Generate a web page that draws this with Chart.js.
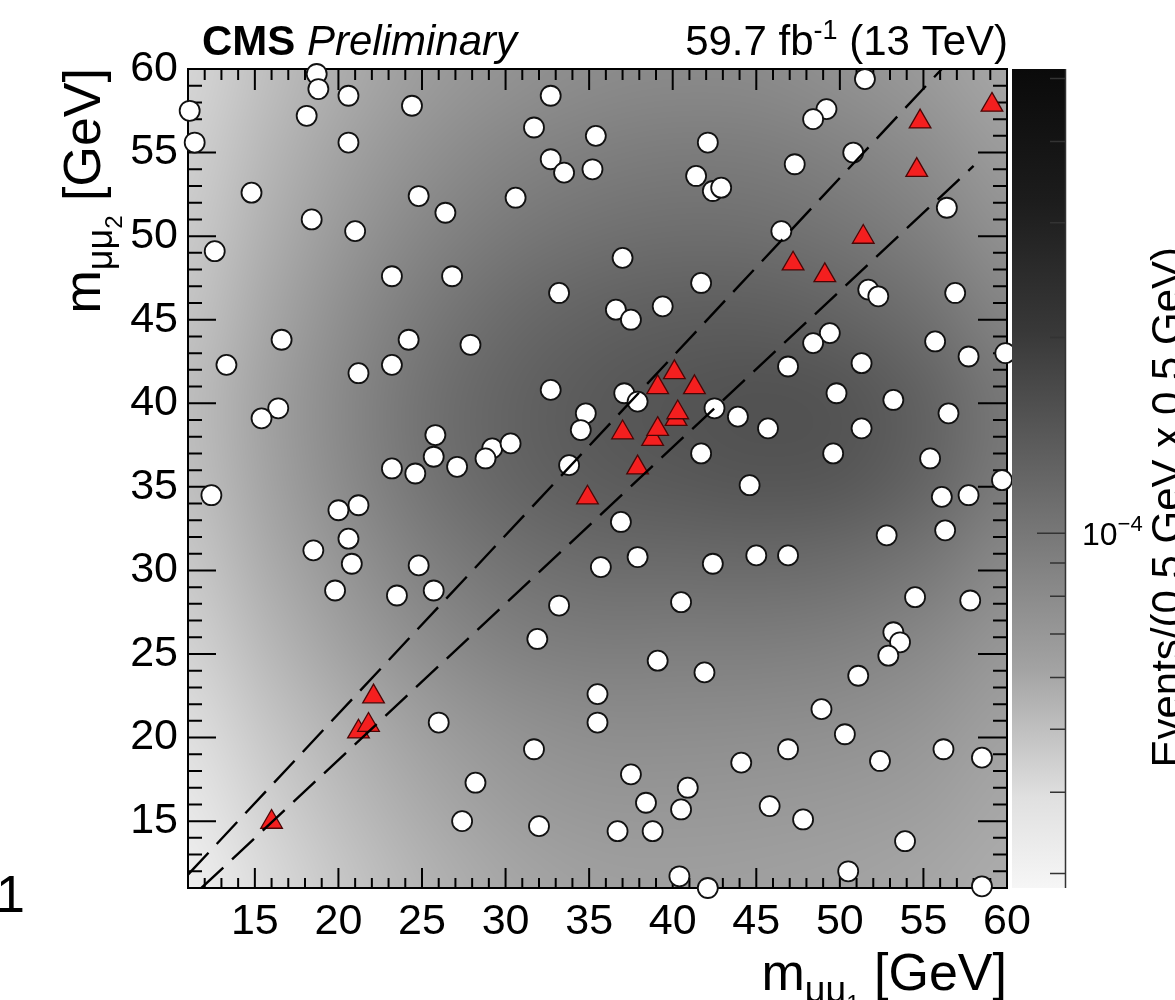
<!DOCTYPE html>
<html>
<head>
<meta charset="utf-8">
<title>m_mumu1 vs m_mumu2</title>
<script src="https://cdn.jsdelivr.net/npm/chart.js@4.4.1/dist/chart.umd.min.js"></script>
<style>
  html, body { margin: 0; padding: 0; background: #fff; }
  #wrap { width: 1175px; height: 1000px; }
</style>
</head>
<body>
<div id="wrap"><canvas id="plot" width="1175" height="1000"></canvas></div>
<script>
// --- data: dimuon pair masses in GeV ---

// events outside the diagonal signal corridor
const offDiagM1 = [
  11.1, 11.4, 18.7, 18.8, 18.1, 20.6, 20.6, 24.4, 14.8, 18.4, 21.0, 12.6, 24.8, 26.4,
  23.2, 26.8, 32.7, 31.7, 35.4, 32.7, 33.5, 35.2, 30.6, 33.2, 16.6, 24.2, 27.9,
  51.5, 49.2, 48.4, 42.1, 41.4, 42.4, 42.9, 47.3, 50.8, 56.4, 46.5, 37.0, 41.7,
  36.6, 37.5, 39.4, 51.7, 52.3, 56.9, 49.4, 48.4, 55.7,
  13.3, 21.2, 23.2, 32.7, 34.8, 34.5, 33.8, 16.4, 15.4, 25.8, 25.7, 23.2, 24.6,
  27.1, 29.2, 30.3, 28.8, 12.4, 20.0, 21.2, 20.6, 18.5, 20.8, 24.8, 19.8, 23.5,
  25.7, 33.2, 35.7,
  37.1, 37.9, 42.5, 43.9, 45.7, 46.9, 51.3, 49.8, 53.2, 56.5, 57.7, 59.9, 51.3,
  49.6, 55.4, 59.7, 41.7, 44.6, 56.1, 57.7, 36.9, 52.8, 56.3, 37.9, 42.4, 45.0,
  46.9, 40.5, 54.5, 57.8,
  31.9, 35.5, 35.5, 26.0, 31.7, 28.2, 27.4, 32.0,
  53.2, 53.6, 52.9, 51.1, 39.1, 41.9, 48.9, 50.3, 52.4, 56.2, 58.5, 44.1, 46.9,
  37.5, 40.9, 38.4, 40.5, 36.7, 38.8, 45.8, 47.8, 53.9, 40.4, 42.1, 50.5, 58.5
];
const offDiagM2 = [
  57.5, 55.6, 59.7, 58.8, 57.2, 58.4, 55.6, 57.8, 52.6, 51.0, 50.3, 49.1, 52.4, 51.4,
  47.6, 47.6, 58.4, 56.5, 56.0, 54.6, 53.8, 54.0, 52.3, 46.6, 43.8, 43.8, 43.5,
  59.4, 57.6, 57.0, 55.6, 53.6, 52.7, 52.9, 54.3, 55.0, 51.7, 50.3, 48.7, 47.2,
  45.6, 45.0, 45.8, 46.8, 46.4, 46.6, 44.2, 43.6, 43.7,
  42.3, 41.8, 42.3, 40.8, 39.4, 38.4, 36.3, 39.7, 39.1, 38.1, 36.8, 36.1, 35.8,
  36.2, 37.3, 37.6, 36.7, 34.5, 33.6, 33.9, 31.9, 31.2, 30.4, 30.3, 28.8, 28.5,
  28.8, 27.9, 30.2,
  40.6, 40.1, 39.7, 39.2, 38.5, 42.2, 42.4, 40.6, 40.2, 39.4, 42.8, 43.0, 38.5,
  37.0, 36.7, 35.4, 37.0, 35.1, 34.4, 34.5, 32.9, 32.1, 32.4, 30.8, 30.4, 30.9,
  30.9, 28.1, 28.4, 28.2,
  25.9, 22.6, 20.9, 20.9, 19.3, 17.3, 15.0, 14.7,
  26.3, 25.7, 24.9, 23.7, 24.6, 23.9, 21.7, 20.2, 18.6, 19.3, 18.8, 18.5, 19.3,
  17.8, 17.0, 16.1, 15.7, 14.4, 14.4, 15.9, 15.1, 13.8, 11.7, 11.0, 12.0, 11.1
];

// events inside the corridor
const diagM1 = [16.0, 21.2, 21.8, 22.1, 34.9, 37.0, 37.9, 38.8, 39.1, 40.2, 40.3, 39.1, 40.1, 41.3,
  47.2, 49.1, 51.4, 54.6, 54.8, 59.1];
const diagM2 = [14.95, 20.35, 20.75, 22.45, 34.35, 38.25, 36.15, 37.85, 38.45, 39.05, 39.45, 40.95, 41.85, 40.95,
  48.35, 47.65, 49.95, 53.95, 56.85, 57.85];

// corridor boundaries
const upperEdgeM1 = [11.0, 56.1];
const upperEdgeM2 = [11.8, 60.0];
const lowerEdgeM1 = [11.8, 58.0];
const lowerEdgeM2 = [11.0, 54.2];

const massRange = [11, 60];
const massTicks = [15, 20, 25, 30, 35, 40, 45, 50, 55, 60];

// expected background density, Events/(0.5 GeV x 0.5 GeV)
const densityRange = [2.85e-5, 5.17e-4];
const densityMajorTicks = [1e-4];
const densityMinorTicks = [3e-5, 4e-5, 5e-5, 6e-5, 7e-5, 8e-5, 9e-5, 2e-4, 3e-4, 4e-4, 5e-4];

// background template shade on an 11 x 11 node grid spanning massRange,
// rows from m2 = 60 down to m2 = 11, columns m1 = 11 .. 60
const bgShade = [
  [214, 190, 170, 155, 146, 140, 138, 139, 145, 154, 166],
  [208, 182, 160, 144, 133, 127, 124, 125, 131, 141, 156],
  [202, 174, 150, 132, 120, 113, 110, 111, 117, 128, 145],
  [196, 166, 140, 120, 106,  98,  94,  94, 100, 112, 132],
  [190, 160, 134, 112,  98,  89,  84,  81,  84,  98, 120],
  [192, 162, 136, 114, 100,  92,  88,  85,  87, 100, 122],
  [200, 170, 146, 126, 113, 107, 106, 105, 108, 118, 136],
  [210, 182, 158, 140, 128, 124, 125, 125, 128, 136, 150],
  [222, 196, 174, 156, 145, 140, 140, 141, 143, 149, 160],
  [232, 208, 186, 168, 156, 151, 151, 152, 154, 158, 167],
  [240, 218, 196, 178, 166, 160, 159, 160, 162, 166, 172]
];

// --- helpers ---
const FONT = '"Liberation Sans", Arial, Helvetica, sans-serif';
const pts = (xs, ys) => xs.map((x, i) => ({ x: x, y: ys[i] }));

// draws a run of [text, font, dy] pieces on one baseline
function drawRich(ctx, parts, x, y, align) {
  let total = 0;
  parts.forEach(p => { ctx.font = p[1]; total += ctx.measureText(p[0]).width; });
  let cx = align === 'right' ? x - total : x;
  ctx.textAlign = 'left';
  ctx.textBaseline = 'alphabetic';
  parts.forEach(p => {
    ctx.font = p[1];
    ctx.fillText(p[0], cx, y + p[2]);
    cx += ctx.measureText(p[0]).width;
  });
}

// background template + frame with inward ticks
const framePlugin = {
  id: 'frame',
  beforeDatasetsDraw(chart) {
    const { ctx, chartArea: a, scales } = chart;
    const x = scales.x, y = scales.y;

    // template, upsampled with smoothing
    const n = bgShade[0].length, m = bgShade.length;
    const off = document.createElement('canvas');
    off.width = n; off.height = m;
    const octx = off.getContext('2d');
    const img = octx.createImageData(n, m);
    for (let j = 0; j < m; j++) {
      for (let i = 0; i < n; i++) {
        const k = (j * n + i) * 4, g = bgShade[j][i];
        img.data[k] = g; img.data[k + 1] = g; img.data[k + 2] = g; img.data[k + 3] = 255;
      }
    }
    octx.putImageData(img, 0, 0);
    const x0 = x.getPixelForValue(massRange[0]), x1 = x.getPixelForValue(massRange[1]);
    const y0 = y.getPixelForValue(massRange[1]), y1 = y.getPixelForValue(massRange[0]);
    ctx.save();
    ctx.imageSmoothingEnabled = true;
    ctx.imageSmoothingQuality = 'high';
    ctx.drawImage(off, 0.5, 0.5, n - 1, m - 1, x0, y0, x1 - x0, y1 - y0);
    ctx.restore();

    // frame and ticks
    ctx.save();
    ctx.strokeStyle = '#000';
    ctx.lineWidth = 2;
    ctx.beginPath();
    for (let v = Math.ceil(massRange[0]); v <= massRange[1]; v++) {
      const major = v % 5 === 0;
      const px = x.getPixelForValue(v);
      const py = y.getPixelForValue(v);
      ctx.moveTo(px, a.bottom); ctx.lineTo(px, a.bottom - (major ? 20 : 10));
      ctx.moveTo(px, a.top); ctx.lineTo(px, a.top + (major ? 21 : 11));
      ctx.moveTo(a.left, py); ctx.lineTo(a.left + (major ? 28 : 14), py);
      ctx.moveTo(a.right, py); ctx.lineTo(a.right - (major ? 29 : 14), py);
    }
    ctx.stroke();
    ctx.strokeRect(a.left, a.top, a.right - a.left, a.bottom - a.top);
    ctx.restore();
  }
};

// colour bar on the density scale
const paletteStops = [[0, 10], [0.16, 28], [0.32, 56], [0.57, 120], [0.73, 162], [0.89, 224], [1, 246]];
const colorBarPlugin = {
  id: 'colorBar',
  afterDraw(chart) {
    const { ctx } = chart;
    const z = chart.scales.z;
    const left = 1012, right = 1065;
    ctx.save();
    const grad = ctx.createLinearGradient(0, z.top, 0, z.bottom);
    paletteStops.forEach(s => grad.addColorStop(s[0], `rgb(${s[1]},${s[1]},${s[1]})`));
    ctx.fillStyle = grad;
    ctx.fillRect(left, z.top, right - left, z.bottom - z.top);

    ctx.strokeStyle = '#333';
    ctx.lineWidth = 1.5;
    ctx.beginPath();
    ctx.moveTo(right + 0.5, z.top); ctx.lineTo(right + 0.5, z.bottom);
    densityMinorTicks.forEach(v => {
      const py = z.getPixelForValue(v);
      ctx.moveTo(right, py); ctx.lineTo(right - 15, py);
    });
    densityMajorTicks.forEach(v => {
      const py = z.getPixelForValue(v);
      ctx.moveTo(right, py); ctx.lineTo(right - 28, py);
    });
    ctx.stroke();

    ctx.fillStyle = '#000';
    densityMajorTicks.forEach(v => {
      const py = z.getPixelForValue(v);
      const exp = Math.round(Math.log10(v));
      drawRich(ctx, [['10', `32px ${FONT}`, 0], ['\u2212' + Math.abs(exp), `22px ${FONT}`, -14]],
        1082, py + 12, 'left');
    });

    // axis title, partly off the canvas edge
    ctx.translate(1181, 247);
    ctx.rotate(-Math.PI / 2);
    ctx.font = `42px ${FONT}`;
    ctx.textAlign = 'right';
    ctx.textBaseline = 'alphabetic';
    ctx.fillText('Events/(0.5 GeV x 0.5 GeV)', 0, 0);
    ctx.restore();
  }
};

// header and axis titles
const labelsPlugin = {
  id: 'labels',
  afterDraw(chart) {
    const { ctx } = chart;
    ctx.save();
    ctx.fillStyle = '#000';
    drawRich(ctx, [['CMS', `bold 42px ${FONT}`, 0], [' ', `42px ${FONT}`, 0],
      ['Preliminary', `italic 42px ${FONT}`, 0]], 202, 55, 'left');
    drawRich(ctx, [['59.7 fb', `42px ${FONT}`, 0], ['-1', `27px ${FONT}`, -16],
      [' (13 TeV)', `42px ${FONT}`, 0]], 1008, 55, 'right');

    const title = sub => [['m', `52px ${FONT}`, 0], ['\u03bc\u03bc', `36px ${FONT}`, 12],
      [sub, `24px ${FONT}`, 22], [' [GeV]', `52px ${FONT}`, 0]];
    drawRich(ctx, title('1'), 1007, 990, 'right');

    ctx.save();
    ctx.translate(100, 68);
    ctx.rotate(-Math.PI / 2);
    drawRich(ctx, title('2'), 0, 0, 'right');
    ctx.restore();

    // edge of the neighbouring panel
    ctx.font = `52px ${FONT}`;
    ctx.textAlign = 'left';
    ctx.fillText('1', -4, 912);
    ctx.restore();
  }
};

const tickFont = { family: FONT, size: 43 };

new Chart(document.getElementById('plot'), {
  type: 'scatter',
  data: {
    datasets: [
      {
        label: 'upper edge',
        data: pts(upperEdgeM1, upperEdgeM2),
        showLine: true,
        borderColor: '#000',
        borderWidth: 2.4,
        borderDash: [30, 12],
        pointRadius: 0,
        order: 0
      },
      {
        label: 'lower edge',
        data: pts(lowerEdgeM1, lowerEdgeM2),
        showLine: true,
        borderColor: '#000',
        borderWidth: 2.4,
        borderDash: [30, 12],
        pointRadius: 0,
        order: 0
      },
      {
        label: 'in corridor',
        data: pts(diagM1, diagM2),
        pointStyle: 'triangle',
        pointRadius: 12.5,
        backgroundColor: '#f41f1f',
        borderColor: '#4a0606',
        borderWidth: 1.3,
        clip: false,
        order: 1
      },
      {
        label: 'off corridor',
        data: pts(offDiagM1, offDiagM2),
        pointStyle: 'circle',
        pointRadius: 10,
        backgroundColor: '#ffffff',
        borderColor: '#111',
        borderWidth: 1.8,
        clip: false,
        order: 2
      }
    ]
  },
  options: {
    responsive: false,
    animation: false,
    events: [],
    layout: { padding: { top: 69, left: 0, right: 0, bottom: 0 } },
    plugins: { legend: { display: false }, tooltip: { enabled: false } },
    scales: {
      x: {
        type: 'linear',
        min: massRange[0],
        max: massRange[1],
        afterBuildTicks: s => { s.ticks = massTicks.map(v => ({ value: v })); },
        afterFit: s => { s.height = 112; },
        grid: { display: false, drawTicks: false },
        border: { display: false },
        ticks: { font: tickFont, color: '#000', padding: 8, maxRotation: 0, autoSkip: false }
      },
      y: {
        type: 'linear',
        min: massRange[0],
        max: massRange[1],
        afterBuildTicks: s => { s.ticks = massTicks.map(v => ({ value: v })); },
        afterFit: s => { s.width = 188; },
        grid: { display: false, drawTicks: false },
        border: { display: false },
        ticks: { font: tickFont, color: '#000', padding: 10, autoSkip: false }
      },
      z: {
        type: 'logarithmic',
        axis: 'y',
        position: 'right',
        min: densityRange[0],
        max: densityRange[1],
        afterFit: s => { s.width = 168; },
        grid: { display: false, drawTicks: false },
        border: { display: false },
        ticks: { display: false }
      }
    }
  },
  plugins: [framePlugin, colorBarPlugin, labelsPlugin]
});
</script>
</body>
</html>
